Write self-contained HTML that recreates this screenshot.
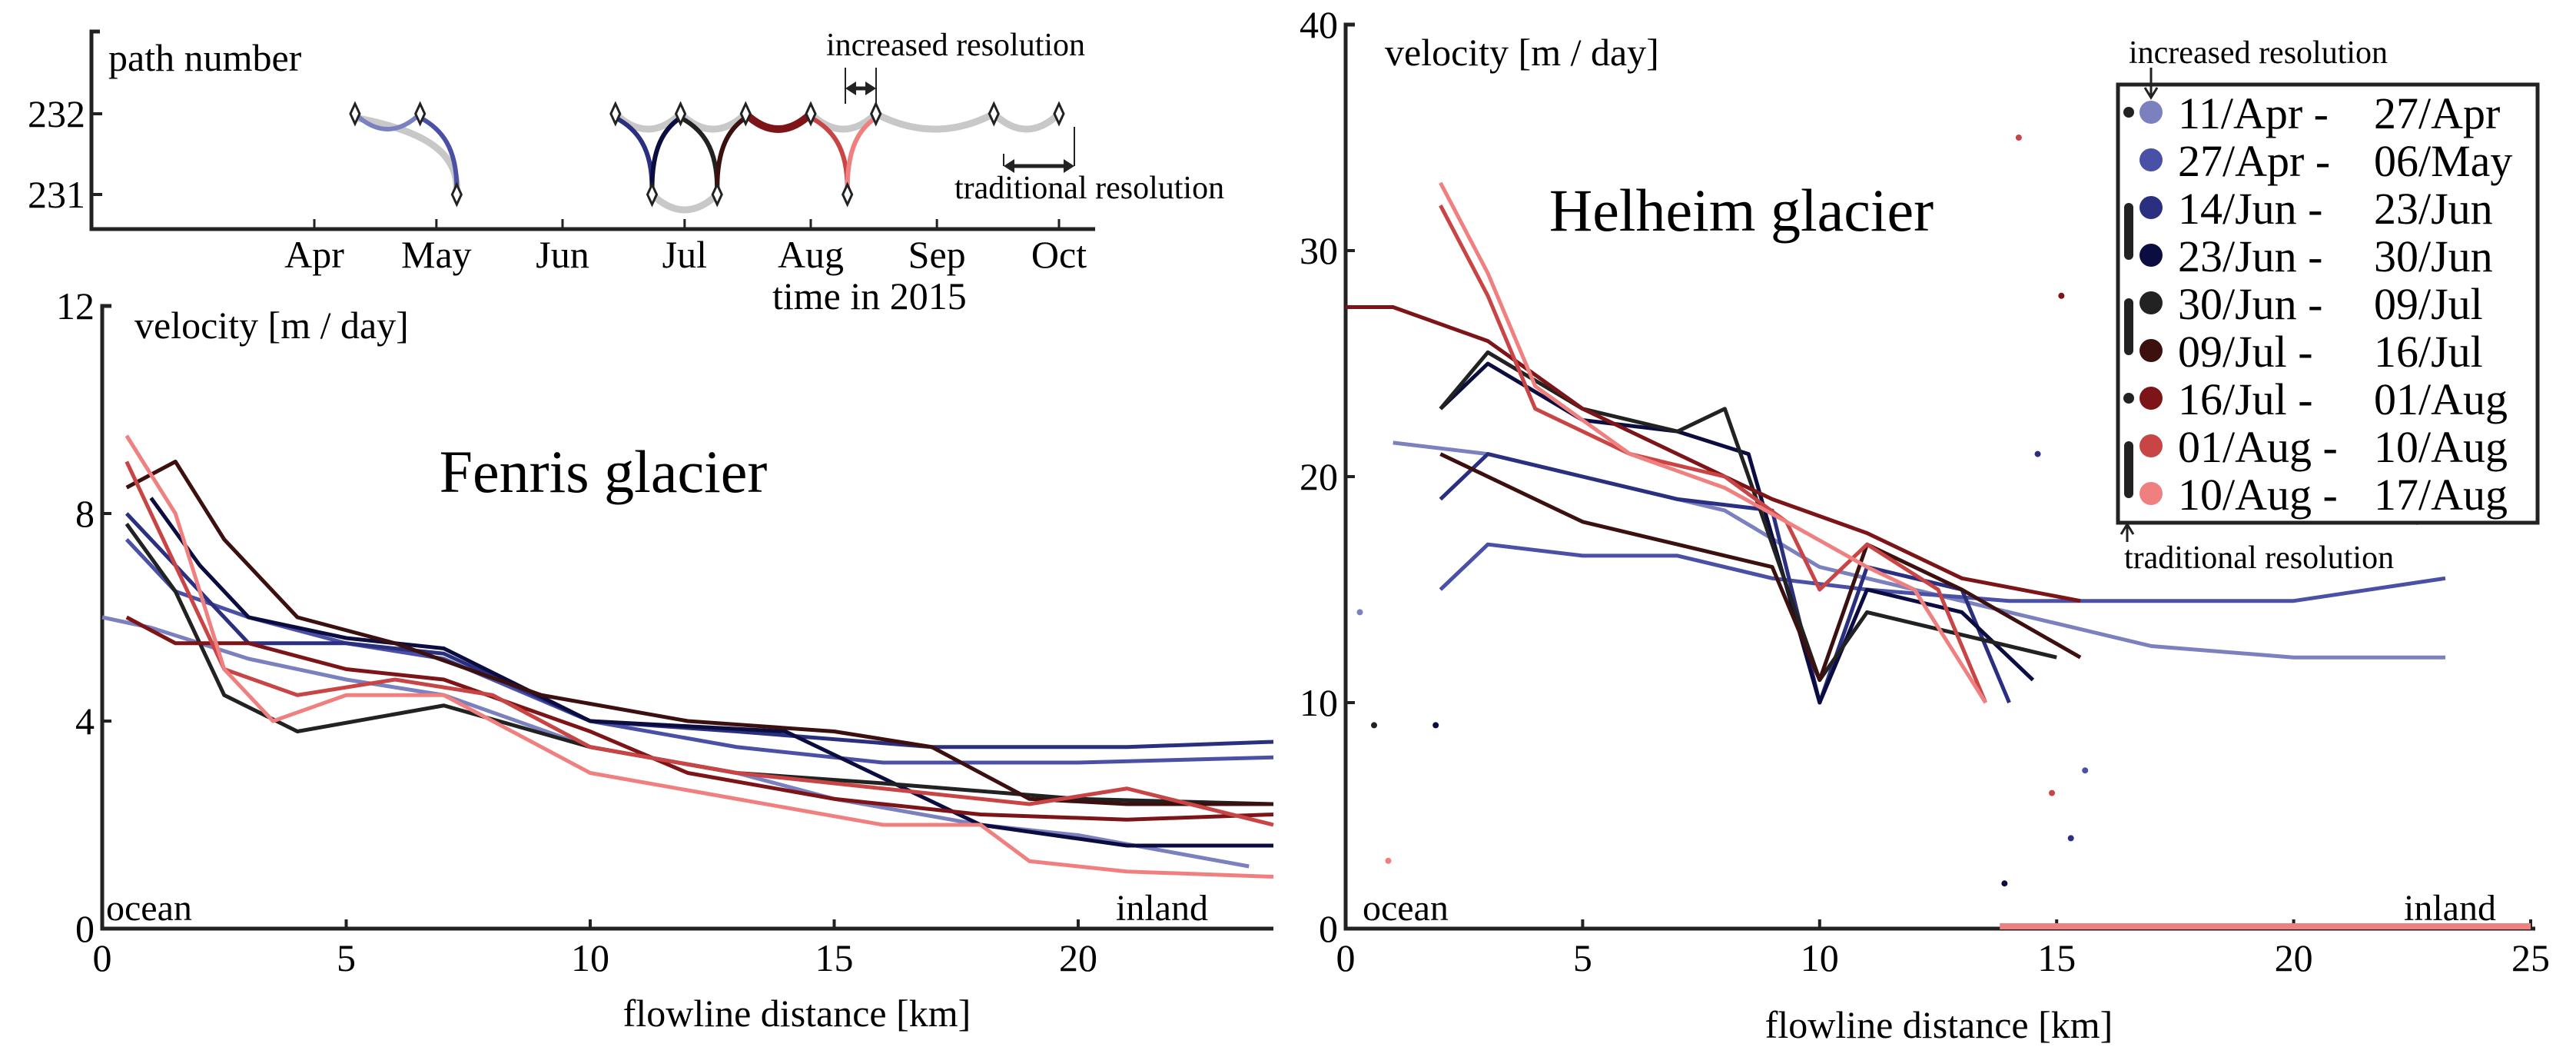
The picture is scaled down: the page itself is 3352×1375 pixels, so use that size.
<!DOCTYPE html>
<html><head><meta charset="utf-8">
<style>
html,body{margin:0;padding:0;background:#fff;}
svg{display:block;font-family:"Liberation Serif",serif;}
</style></head>
<body>
<svg id="fig" width="3352" height="1375" viewBox="0 0 3352 1375" xmlns="http://www.w3.org/2000/svg">
<g id="inset"></g>
<g id="left"></g>
<g id="right"></g>
<g id="legend"></g>
</svg>
<script>
const colors=["#7b80bf","#4a50a5","#2a2f80","#0b0d40","#222222","#3d1010","#7d1518","#c94545","#f08080"];
const labelsA=["11/Apr -","27/Apr -","14/Jun -","23/Jun -","30/Jun -","09/Jul -","16/Jul -","01/Aug -","10/Aug -"];
const labelsB=["27/Apr","06/May","23/Jun","30/Jun","09/Jul","16/Jul","01/Aug","10/Aug","17/Aug"];
const months=["Apr","May","Jun","Jul","Aug","Sep","Oct"];
const monthDoy=[91,121,152,182,213,244,274];
const insetPaths=[[101,232,117,232],[117,232,126,231],[165,232,174,231],[174,231,181,232],[181,232,190,231],[190,231,197,232],[197,232,213,232],[213,232,222,231],[222,231,229,232]];
const greyPaths=[[101,232,126,231],[165,232,181,232],[174,231,190,231],[181,232,197,232],[197,232,213,232],[213,232,229,232],[229,232,258,232],[258,232,274,232]];
const diamonds=[[101,232],[117,232],[126,231],[165,232],[174,231],[181,232],[190,231],[197,232],[213,232],[222,231],[229,232],[258,232],[274,232]];
const fX=[[0,1,3,5,7,10,13,15,18,20,23.5],[0.5,1.5,3,5,7,10,13,16,20,24],[0.5,1.5,3,5,7,10,13,17,21,24],[1,2,3,5,7,10,12,14,18,21,24],[0.5,1.5,2.5,4,7,10,13,16,20,24],[0.5,1.5,2.5,4,6,9,12,15,17,19,21,24],[0.5,1.5,3,5,7,10,12,15,18,21,24],[0.5,1.5,2.5,4,6,8,10,13,16,19,21,24],[0.5,1.5,2.5,3.5,5,7,10,13,16,18,19,21,24]];
const fY=[[6,5.8,5.2,4.8,4.5,3.5,3.0,2.5,2.0,1.8,1.2],[7.5,6.5,6,5.5,5.2,4,3.5,3.2,3.2,3.3],[8,7,5.5,5.5,5.3,4,3.8,3.5,3.5,3.6],[8.3,7,6,5.6,5.4,4,3.9,3.8,2,1.6,1.6],[7.8,6.5,4.5,3.8,4.3,3.5,3.0,2.8,2.5,2.4],[8.5,9,7.5,6,5.5,4.5,4,3.8,3.5,2.5,2.4,2.4],[6,5.5,5.5,5,4.8,3.8,3,2.5,2.2,2.1,2.2],[9,7,5,4.5,4.8,4.5,3.5,3,2.7,2.4,2.7,2],[9.5,8,5,4,4.5,4.5,3,2.5,2,2,1.3,1.1,1]];
const hX=[[1,3,5,8,10,12,15,17,20,23.2],[2,3,5,7,9,11,14,17,20,23.2],[2,3,5,7,9,10,11,13,14],[2,3,5,7,8.5,10,11,13,14.5],[2,3,5,7,8,10,11,13,15],[2,3,5,7,9,10,11,13,15.5],[0,1,3,5,7,9,11,13,15.5],[2,3,4,6,8,9.3,10,11,12.5,13.5],[2,3,4,6,8,9.3,11,12,13.5]];
const hY=[[21.5,21,20,18.5,16,15,13.5,12.5,12,12],[15,17,16.5,16.5,15.5,15,14.5,14.5,14.5,15.5],[19,21,20,19,18.5,10,16,15,10],[23,25,22.5,22,21,10,15,14,11],[23,25.5,23,22,23,11,14,13,12],[21,20,18,17,16,11,17,15,12],[27.5,27.5,26,23,21,19,17.5,15.5,14.5],[32,28,23,21,20,18,15,17,15,10],[33,29,24,21,19.5,18,16,15,10]];
const scatX=[0.3,0.6,0.9,1.9,14.2,14.6,15.1,15.6,21.6,22.2,22.6,22.9,13.9,14.9,15.3];
const scatY=[14,9,3,9,35,21,28,7,33,25,18,27,2,6,4];

const NS="http://www.w3.org/2000/svg";
function mk(parent,tag,attrs,text){const e=document.createElementNS(NS,tag);for(const k in attrs)e.setAttribute(k,attrs[k]);if(text!==undefined)e.textContent=text;parent.appendChild(e);return e;}

const inset=document.getElementById('inset');
const ix=d=>409+(d-91)*(1378-409)/(274-91);
const iy=p=>148+(232-p)*105;
let e;
e=mk(inset,'path',{d:'M130 41 L119 41 L119 298 L1425 298',fill:'none',stroke:'#222','stroke-width':5});

[232,231].forEach(p=>{mk(inset,'line',{x1:119,x2:133,y1:iy(p),y2:iy(p),stroke:'#222','stroke-width':4});
 e=mk(inset,'text',{x:111,y:iy(p)+17,'text-anchor':'end','font-size':50},String(p));
 });
months.forEach((m,i)=>{const x=ix(monthDoy[i]);mk(inset,'line',{x1:x,x2:x,y1:285,y2:298,stroke:'#222','stroke-width':3});
 e=mk(inset,'text',{x:x,y:348,'text-anchor':'middle','font-size':50},m);
 });
function curve(g,p,col,w){const x1=ix(p[0]),y1=iy(p[1]),x2=ix(p[2]),y2=iy(p[3]);let d;
 if(p[1]===p[3]){d=`M${x1} ${y1} Q${(x1+x2)/2} ${y1+40} ${x2} ${y2}`;}
 else if(p[1]>p[3]){d=`M${x1} ${y1+5} C${x1+(x2-x1)*0.6} ${y1+20} ${x2} ${y2-60} ${x2} ${y2-8}`;}
 else{d=`M${x1} ${y1-8} C${x1} ${y1-60} ${x1+(x2-x1)*0.4} ${y2+20} ${x2} ${y2+5}`;}
 return mk(g,'path',{d:d,fill:'none',stroke:col,'stroke-width':w});}
greyPaths.forEach(p=>{e=curve(inset,p,'#c8c8c8',9);});
insetPaths.forEach((p,i)=>{e=curve(inset,p,colors[i],i===6?10:6);});
diamonds.forEach(dm=>{const x=ix(dm[0]),y=iy(dm[1]);e=mk(inset,'path',{d:`M${x} ${y-13} L${x+6} ${y} L${x} ${y+13} L${x-6} ${y} Z`,fill:'#fff',stroke:'#222','stroke-width':3});
 });
e=mk(inset,'text',{x:141,y:92,'font-size':50},'path number');
e=mk(inset,'text',{x:1005,y:402,'font-size':50},'time in 2015');
e=mk(inset,'text',{x:1075,y:72,'font-size':42},'increased resolution');
e=mk(inset,'text',{x:1242,y:258,'font-size':42},'traditional resolution');
[[1100,1140,115,88],[1306,1398,216,200]].forEach(a=>{mk(inset,'line',{x1:a[0],x2:a[0],y1:a[3],y2:a[2]+(a[2]>150?0:20),stroke:'#222','stroke-width':2});
 mk(inset,'line',{x1:a[1],x2:a[1],y1:a[3]-(a[2]>150?35:0),y2:a[2]+(a[2]>150?0:20),stroke:'#222','stroke-width':2});
 mk(inset,'line',{x1:a[0]+8,x2:a[1]-8,y1:a[2],y2:a[2],stroke:'#222','stroke-width':5});
 mk(inset,'path',{d:`M${a[0]} ${a[2]} l14 -9 v18 Z M${a[1]} ${a[2]} l-14 -9 v18 Z`,fill:'#222'});});

function chart(g,o){
 const sx=v=>o.x0+v*(o.x1-o.x0)/o.xmax, sy=v=>o.y0-v*(o.y0-o.y1)/o.ymax;
 e=mk(g,'path',{d:`M${o.x0+12} ${o.y1} L${o.x0} ${o.y1} L${o.x0} ${o.y0} L${o.xend} ${o.y0}`,fill:'none',stroke:'#222','stroke-width':5});
 
 o.yt.forEach(v=>{mk(g,'line',{x1:o.x0,x2:o.x0+12,y1:sy(v),y2:sy(v),stroke:'#222','stroke-width':4});
  e=mk(g,'text',{x:o.x0-10,y:sy(v)+17,'text-anchor':'end','font-size':50},String(v));
  });
 o.xt.forEach(v=>{mk(g,'line',{x1:sx(v),x2:sx(v),y1:o.y0,y2:o.y0-12,stroke:'#222','stroke-width':4});
  e=mk(g,'text',{x:sx(v),y:o.y0+55,'text-anchor':'middle','font-size':50},String(v));
  });
 o.X.forEach((xs,i)=>{const pts=xs.map((x,j)=>sx(x)+','+sy(o.Y[i][j])).join(' ');
  e=mk(g,'polyline',{points:pts,fill:'none',stroke:colors[i],'stroke-width':5,'stroke-linejoin':'round'});
  });
 return {sx,sy};
}
const left=document.getElementById('left');
chart(left,{x0:133,x1:1403,xmax:20,xend:1657,y0:1208,y1:398,ymax:12,xt:[0,5,10,15,20],yt:[0,4,8,12],X:fX,Y:fY});
e=mk(left,'text',{x:175,y:440,'font-size':50},'velocity [m / day]');
e=mk(left,'text',{x:785,y:640,'text-anchor':'middle','font-size':78},'Fenris glacier');
e=mk(left,'text',{x:138,y:1197,'font-size':48},'ocean');
e=mk(left,'text',{x:1452,y:1197,'font-size':48},'inland');
e=mk(left,'text',{x:1037,y:1335,'text-anchor':'middle','font-size':50},'flowline distance [km]');

const right=document.getElementById('right');
const R=chart(right,{x0:1751,x1:3293,xmax:25,xend:3299,y0:1208,y1:32,ymax:40,xt:[0,5,10,15,20,25],yt:[0,10,20,30,40],X:hX,Y:hY});
e=mk(right,'line',{x1:R.sx(13.8),x2:R.sx(25),y1:R.sy(0)-3,y2:R.sy(0)-3,stroke:'#f08080','stroke-width':8});

scatX.forEach((x,i)=>{e=mk(right,'circle',{cx:R.sx(x),cy:R.sy(scatY[i]),r:4,fill:colors[(i*4)%9]});
 });
e=mk(right,'text',{x:1802,y:85,'font-size':50},'velocity [m / day]');
e=mk(right,'text',{x:2266,y:300,'text-anchor':'middle','font-size':78},'Helheim glacier');
e=mk(right,'text',{x:1773,y:1197,'font-size':48},'ocean');
e=mk(right,'text',{x:3128,y:1197,'font-size':48},'inland');
e=mk(right,'text',{x:2523,y:1350,'text-anchor':'middle','font-size':50},'flowline distance [km]');

const lg=document.getElementById('legend');
mk(lg,'rect',{x:2756,y:110,width:546,height:570,fill:'#fff',stroke:'#222','stroke-width':5});
labelsA.forEach((t,i)=>{const y=146+i*62;
 e=mk(lg,'circle',{cx:2799,cy:y,r:15,fill:colors[i]});
 e=mk(lg,'text',{x:2834,y:y+21,'font-size':58},t);
 e=mk(lg,'text',{x:3089,y:y+21,'font-size':58},labelsB[i]);});
[0,6].forEach(r=>mk(lg,'circle',{cx:2770,cy:146+r*62,r:7,fill:'#222'}));
[[2,3],[4,5],[7,8]].forEach(a=>mk(lg,'line',{x1:2770,x2:2770,y1:146+a[0]*62,y2:146+a[1]*62,stroke:'#222','stroke-width':12,'stroke-linecap':'round'}));
e=mk(lg,'text',{x:2770,y:82,'font-size':42},'increased resolution');
mk(lg,'path',{d:'M2799 88 V124 M2791 114 L2799 127 L2807 114',fill:'none',stroke:'#222','stroke-width':3});
e=mk(lg,'text',{x:2764,y:739,'font-size':42},'traditional resolution');
mk(lg,'path',{d:'M2768 705 V685 M2760 695 L2768 682 L2776 695',fill:'none',stroke:'#222','stroke-width':3});
</script>
</body></html>
